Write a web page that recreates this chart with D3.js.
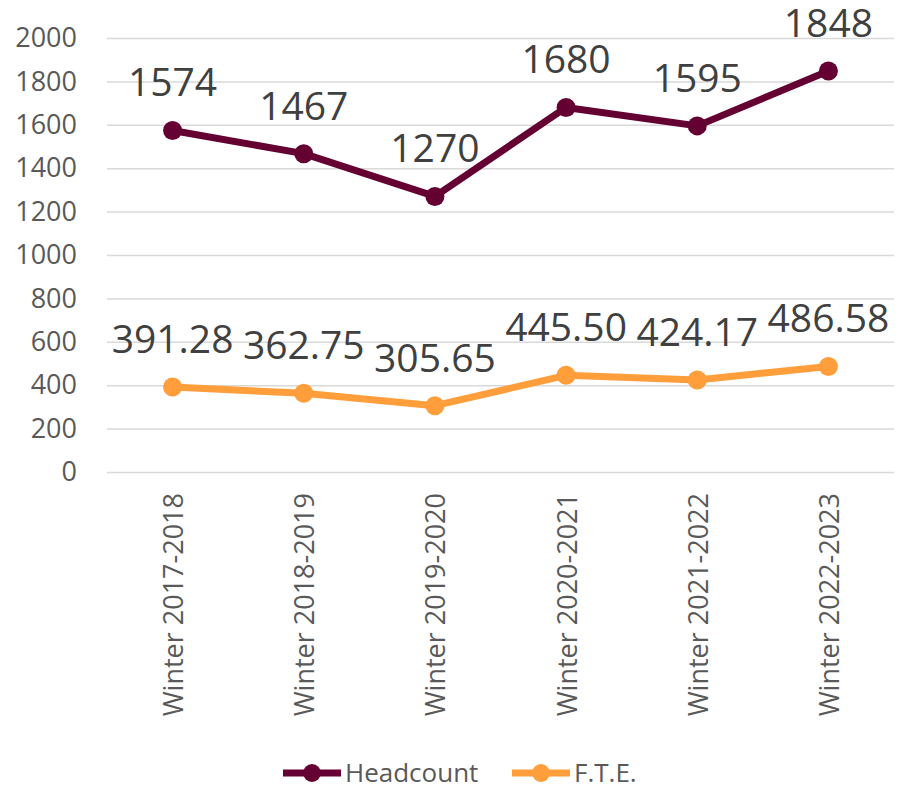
<!DOCTYPE html>
<html><head><meta charset="utf-8">
<script src="https://cdn.jsdelivr.net/npm/d3@7/dist/d3.min.js"></script>
<style>body{margin:0;background:#fff}svg{display:block}text{font-family:"Open Sans",sans-serif}</style>
</head><body>
<svg id="c" width="897" height="786"></svg>
<script>
const categories = ["Winter 2017-2018","Winter 2018-2019","Winter 2019-2020","Winter 2020-2021","Winter 2021-2022","Winter 2022-2023"];
const headcount = [1574,1467,1270,1680,1595,1848];
const fte = [391.28,362.75,305.65,445.50,424.17,486.58];
const yTicks = [0,200,400,600,800,1000,1200,1400,1600,1800,2000];
const seriesNames = ["Headcount","F.T.E."];

const svg = d3.select("#c");
const x = d3.scaleBand().domain(categories).range([107,894]);
const y = d3.scaleLinear().domain([0,2000]).range([472,38]);
const cx = d => x(d) + x.bandwidth()/2;

// gridlines
const yAxis = d3.axisLeft(y).tickValues(yTicks).tickFormat(d3.format("d")).tickSize(-(894-107)).tickPadding(30);
const g = svg.append("g").attr("transform","translate(107,0)").call(yAxis);
g.select(".domain").remove();
g.selectAll(".tick line").attr("stroke","#d9d9d9").attr("stroke-width",1.5);
g.selectAll(".tick text").attr("fill","#595959").attr("font-size",27).attr("font-family","'Open Sans',sans-serif");

// x labels
svg.append("g").selectAll("text").data(categories).join("text")
  .attr("transform",d=>`translate(${cx(d)},493) rotate(-90)`)
  .attr("text-anchor","end").attr("dominant-baseline","central")
  .attr("fill","#595959").attr("font-size",27).text(d=>d);

const colors = ["#650033","#FF9E3B"];
const data = [headcount, fte];
const fmt = [d=>String(d), d=>d.toFixed(2)];
data.forEach((vals,i)=>{
  const pts = categories.map((c,j)=>[cx(c), y(vals[j])]);
  svg.append("path").attr("d", d3.line()(pts)).attr("fill","none")
    .attr("stroke",colors[i]).attr("stroke-width",7).attr("stroke-linejoin","round");
  svg.append("g").selectAll("circle").data(pts).join("circle")
    .attr("cx",p=>p[0]).attr("cy",p=>p[1]).attr("r",9.5).attr("fill",colors[i]);
  svg.append("g").selectAll("text").data(vals).join("text")
    .attr("x",(v,j)=>cx(categories[j])).attr("y",v=>y(v)-34)
    .attr("text-anchor","middle").attr("fill","#404040").attr("font-size",39)
    .text(v=>fmt[i](v));
});

// legend
const legX = [283,512];
seriesNames.forEach((n,i)=>{
  const lg = svg.append("g").attr("transform",`translate(${legX[i]},773)`);
  lg.append("line").attr("x1",0).attr("x2",58).attr("stroke",colors[i]).attr("stroke-width",7);
  lg.append("circle").attr("cx",29).attr("r",9).attr("fill",colors[i]);
  lg.append("text").attr("x",62).attr("y",9).attr("fill","#595959").attr("font-size",26).text(n);
});
</script>
</body></html>
